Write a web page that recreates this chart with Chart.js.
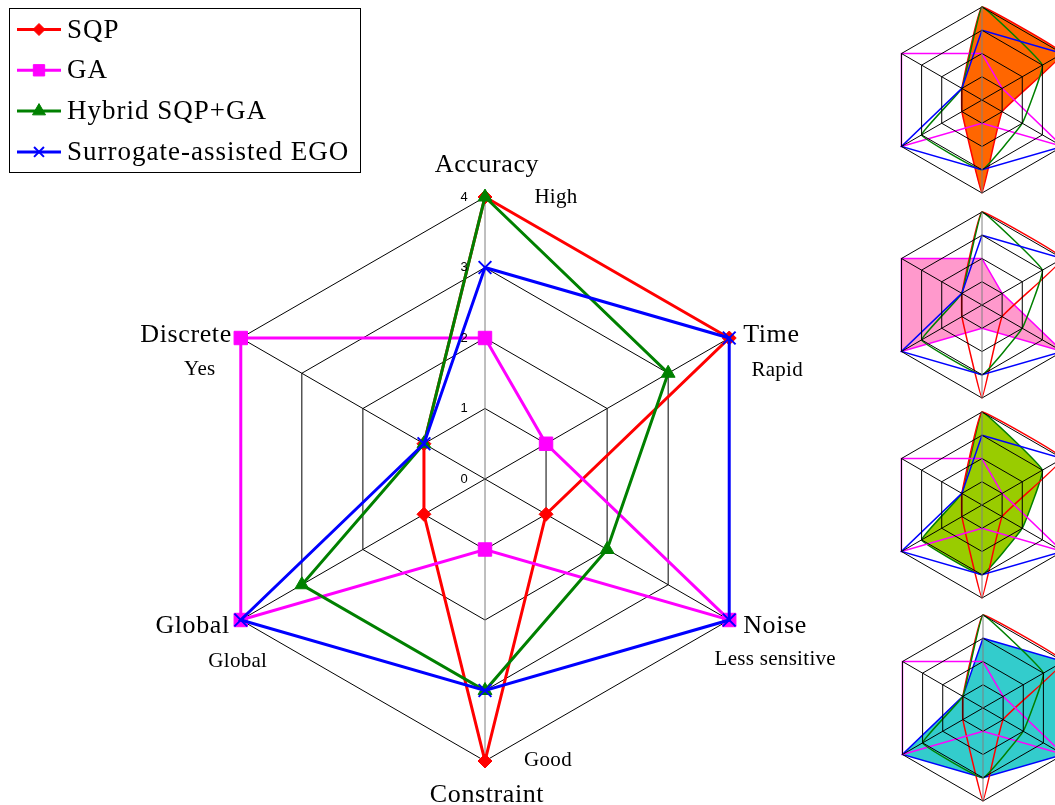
<!DOCTYPE html>
<html>
<head>
<meta charset="utf-8">
<title>Optimizer comparison radar</title>
<script src="https://cdn.jsdelivr.net/npm/chart.js"></script>
<style>
  html, body { margin: 0; padding: 0; background: #fff; overflow: hidden; }
  body { width: 1055px; height: 805px; position: relative; }
  canvas { position: absolute; }
</style>
</head>
<body>
<canvas id="mainChart" width="1055" height="805" style="left:0;top:0"></canvas>
<canvas id="mini0" width="196" height="196"></canvas>
<canvas id="mini1" width="196" height="196"></canvas>
<canvas id="mini2" width="196" height="196"></canvas>
<canvas id="mini3" width="196" height="196"></canvas>
<script>
// data
const axisLabels = ['Accuracy', 'Time', 'Noise', 'Constraint', 'Global', 'Discrete'];
const axisNotes = ['High', 'Rapid', 'Less sensitive', 'Good', 'Global', 'Yes'];
const seriesNames = ['SQP', 'GA', 'Hybrid SQP+GA', 'Surrogate-assisted EGO'];
const sqp = [4, 4, 1, 4, 1, 1];
const ga = [2, 1, 4, 1, 4, 4];
const hybrid = [4, 3, 2, 3, 3, 1];
const ego = [3, 4, 4, 3, 4, 1];
const scaleMin = 0;
const scaleMax = 4;

// styles
const seriesValues = [sqp, ga, hybrid, ego];
const seriesColors = ['#ff0000', '#ff00ff', '#008000', '#0000ff'];
const pointStyles = ['rectRot', 'rect', 'triangle', 'crossRot'];
const pointSizes = [7, 9.5, 8, 9];
const legendSizes = [6, 8, 7.5, 7];
const miniFills = ['#ff6600', '#ff99cc', '#99cc00', '#33cccc'];
const miniTension = [0.08, 0, 0.08, 0];
const miniCenters = [[982, 100], [982, 305], [982, 505], [983, 708]];
const serif = '"Liberation Serif", "Times New Roman", serif';

// label offsets from each axis vertex (px)
const labelSpots = [
    { dx: 2, dy: -25, align: 'center' },
    { dx: 14, dy: 4, align: 'left' },
    { dx: 14, dy: 13, align: 'left' },
    { dx: 2, dy: 41, align: 'center' },
    { dx: -11, dy: 13, align: 'right' },
    { dx: -9, dy: 4, align: 'right' }
];
const noteSpots = [
    { dx: 71, dy: 6 }, { dx: 48, dy: 38 }, { dx: 46, dy: 45 },
    { dx: 63, dy: 5 }, { dx: -3, dy: 47 }, { dx: -41, dy: 37 }
];

function spokeColor(ctx) {
    return (ctx.index === 0 || ctx.index === 3) ? '#808080' : '#000000';
}

const axisText = {
    id: 'axisText',
    afterDraw(chart) {
        const s = chart.scales.r;
        const ctx = chart.ctx;
        ctx.save();
        ctx.fillStyle = '#000';

        // tick numbers, left of the vertical axis
        ctx.font = '13px "Liberation Sans", Arial, sans-serif';
        ctx.textAlign = 'center';
        ctx.textBaseline = 'middle';
        s.ticks.forEach(t => {
            const y = s.yCenter - s.getDistanceFromCenterForValue(t.value);
            ctx.fillText(t.label, s.xCenter - 21, y);
        });

        ctx.textBaseline = 'alphabetic';
        axisLabels.forEach((lab, i) => {
            const p = s.getPointPosition(i, s.drawingArea);
            const spot = labelSpots[i];
            ctx.font = '26px ' + serif;
            ctx.letterSpacing = '0.6px';
            ctx.textAlign = spot.align;
            ctx.fillText(lab, p.x + spot.dx, p.y + spot.dy);

            const n = noteSpots[i];
            ctx.font = '21px ' + serif;
            ctx.letterSpacing = '0.3px';
            ctx.textAlign = 'center';
            ctx.fillText(axisNotes[i], p.x + n.dx, p.y + n.dy);
        });
        ctx.letterSpacing = '0px';
        ctx.restore();
    }
};

const boxLegend = {
    id: 'boxLegend',
    afterDraw(chart) {
        const ctx = chart.ctx;
        ctx.save();
        ctx.fillStyle = '#fff';
        ctx.strokeStyle = '#000';
        ctx.lineWidth = 1;
        ctx.fillRect(9.5, 8.5, 351, 164);
        ctx.strokeRect(9.5, 8.5, 351, 164);

        chart.data.datasets.forEach((ds, i) => {
            const y = 29.5 + i * 40.8;
            ctx.strokeStyle = ds.borderColor;
            ctx.fillStyle = ds.borderColor;
            ctx.lineWidth = 3;
            ctx.beginPath();
            ctx.moveTo(17, y);
            ctx.lineTo(61, y);
            ctx.stroke();
            ctx.lineWidth = ds.pointStyle === 'crossRot' ? 2 : 1;
            Chart.helpers.drawPoint(ctx, {
                pointStyle: ds.pointStyle, rotation: 0,
                radius: legendSizes[i], borderWidth: ctx.lineWidth
            }, 39, y);

            ctx.fillStyle = '#000';
            ctx.font = '27px ' + serif;
            ctx.letterSpacing = '1px';
            ctx.textAlign = 'left';
            ctx.textBaseline = 'alphabetic';
            ctx.fillText(ds.label, 67, y + 8);
        });
        ctx.letterSpacing = '0px';
        ctx.restore();
    }
};

new Chart(document.getElementById('mainChart'), {
    type: 'radar',
    data: {
        labels: axisLabels,
        datasets: seriesNames.map((name, i) => ({
            label: name,
            data: seriesValues[i],
            borderColor: seriesColors[i],
            backgroundColor: seriesColors[i],
            borderWidth: 3,
            fill: false,
            tension: 0,
            pointStyle: pointStyles[i],
            pointRadius: pointSizes[i],
            pointHoverRadius: pointSizes[i],
            pointBackgroundColor: seriesColors[i],
            pointBorderColor: seriesColors[i],
            pointBorderWidth: pointStyles[i] === 'crossRot' ? 2 : 1,
            order: seriesNames.length - i,
            clip: false
        }))
    },
    options: {
        responsive: false,
        animation: false,
        events: [],
        layout: { padding: { left: 203, right: 288, top: 197, bottom: 44 } },
        plugins: { legend: { display: false }, tooltip: { enabled: false } },
        scales: {
            r: {
                min: scaleMin,
                max: scaleMax,
                ticks: { display: false, stepSize: 1 },
                pointLabels: { display: false },
                grid: { color: '#000', lineWidth: 1 },
                angleLines: { color: spokeColor, lineWidth: 1 }
            }
        }
    },
    plugins: [axisText, boxLegend]
});

// small highlight charts on the right
miniCenters.forEach((c, k) => {
    const cv = document.getElementById('mini' + k);
    cv.style.left = (c[0] - 98) + 'px';
    cv.style.top = (c[1] - 98) + 'px';
    new Chart(cv, {
        type: 'radar',
        data: {
            labels: axisLabels,
            datasets: seriesNames.map((name, i) => ({
                label: name,
                data: seriesValues[i],
                borderColor: seriesColors[i],
                backgroundColor: i === k ? miniFills[i] : 'rgba(0,0,0,0)',
                fill: i === k,
                borderWidth: 1.5,
                tension: miniTension[i],
                pointRadius: 0,
                pointHoverRadius: 0,
                order: i === k ? 10 : seriesNames.length - i,
                clip: false
            }))
        },
        options: {
            responsive: false,
            animation: false,
            events: [],
            layout: { padding: 5 },
            plugins: { legend: { display: false }, tooltip: { enabled: false } },
            scales: {
                r: {
                    min: scaleMin,
                    max: scaleMax,
                    ticks: { display: false, stepSize: 1 },
                    pointLabels: { display: false },
                    grid: { color: '#000', lineWidth: 1, z: 1 },
                    angleLines: { color: spokeColor, lineWidth: 1 }
                }
            }
        }
    });
});
</script>
</body>
</html>
